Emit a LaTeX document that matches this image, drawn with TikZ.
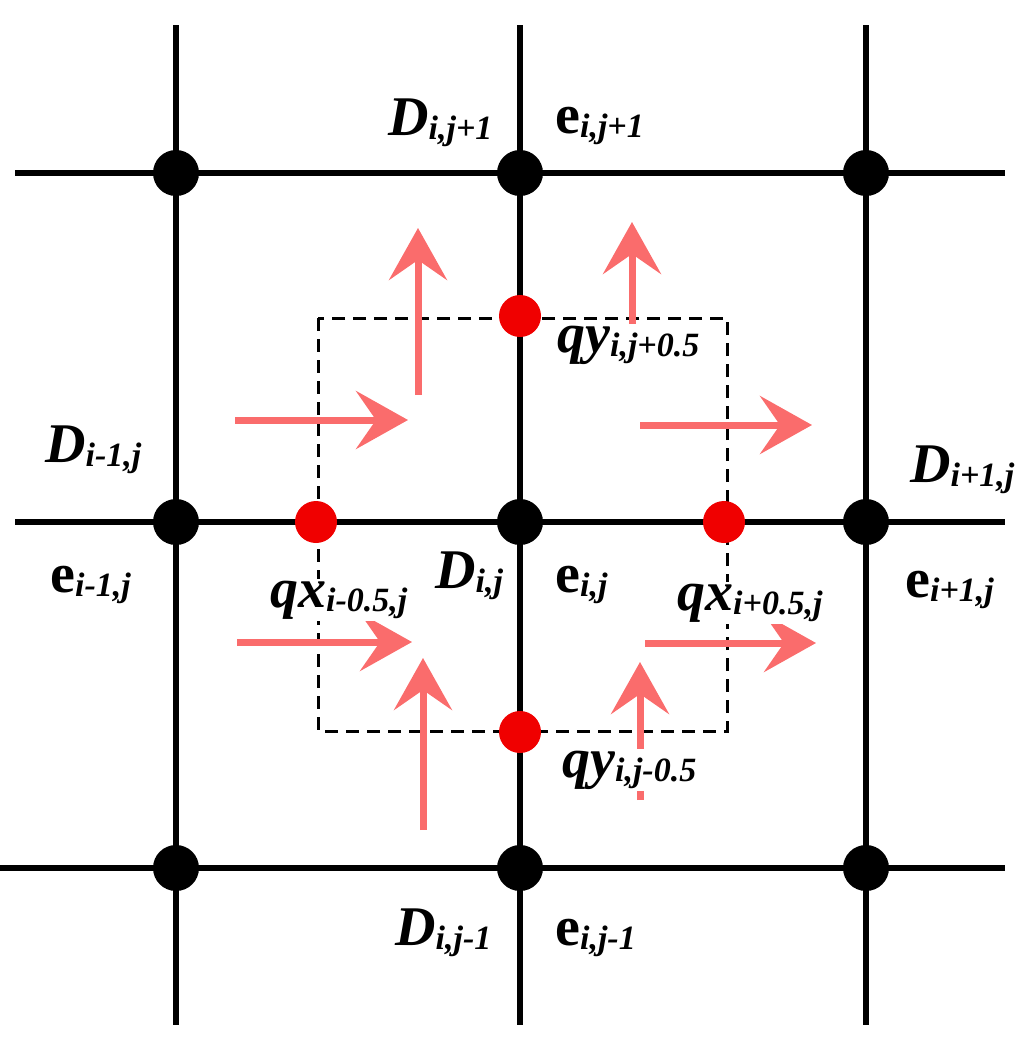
\documentclass[tikz,border=0pt]{standalone}
\usepackage{fontspec}
\setmainfont{Liberation Serif}
\usetikzlibrary{arrows.meta}
\definecolor{flux}{RGB}{250,108,108}
\definecolor{red1}{RGB}{240,0,0}
\newcommand{\lbl}[2]{{\fontsize{56}{56}\selectfont #1}\raisebox{-0.42em}{\fontsize{34}{34}\selectfont\bfseries\itshape #2}}
\newcommand{\DD}{\bfseries\itshape D}
\newcommand{\EE}{\bfseries e}
\newcommand{\QX}{\bfseries\itshape qx}
\newcommand{\QY}{\bfseries\itshape qy}
\begin{document}
\begin{tikzpicture}[x=1pt,y=-1pt,
  grid/.style={line width=6pt,black},
  bdot/.style={circle,fill=black,minimum size=46pt,inner sep=0pt},
  rdot/.style={circle,fill=red1,minimum size=42pt,inner sep=0pt},
  flx/.style={line width=7pt,flux,-{Stealth[length=52pt,width=58pt,inset=20pt]}},
  tx/.style={anchor=base west,inner sep=0pt},
  txw/.style={anchor=base west,inner sep=2pt,fill=white}]
\useasboundingbox (0,0) rectangle (1036,1050);
\draw[line width=3pt,dash pattern=on 13pt off 8pt] (318,318) rectangle (727,731);
\foreach \x in {176,520,866} \draw[grid] (\x,25) -- (\x,1025);
\draw[grid] (15,173) -- (1005,173);
\draw[grid] (15,522) -- (1005,522);
\draw[grid] (0,868) -- (1005,868);
\foreach \x/\n in {176/a,520/b,866/c}{
  \foreach \y/\m in {173/1,522/2,868/3} \node[bdot] (\n\m) at (\x,\y) {};}
\node[rdot] (rt) at (520,316) {};
\node[rdot] (rl) at (316,522) {};
\node[rdot] (rr) at (724,522) {};
\node[rdot] (rb) at (520,732) {};
% flux arrows
\coordinate (s1) at (235,420); \coordinate (e1) at (408,420);
\coordinate (s2) at (418,395); \coordinate (e2) at (418,228);
\coordinate (s3) at (632,345); \coordinate (e3) at (632,222);
\coordinate (s4) at (640,425); \coordinate (e4) at (812,425);
\coordinate (s5) at (237,642); \coordinate (e5) at (412,642);
\coordinate (s6) at (423,830); \coordinate (e6) at (423,658);
\coordinate (s7) at (640,800); \coordinate (e7) at (640,662);
\coordinate (s8) at (645,643); \coordinate (e8) at (816,643);
\foreach \i in {1,...,8} \draw[flx] (s\i) -- (e\i);
% labels
\node[tx] (l1) at (388,135) {\lbl{\DD}{i,j+1}};
\node[tx] (l2) at (555,133) {\lbl{\EE}{i,j+1}};
\node[tx] (l3) at (45,462) {\lbl{\DD}{i-1,j}};
\node[tx] (l4) at (910,482) {\lbl{\DD}{i+1,j}};
\node[tx] (l5) at (50,592) {\lbl{\EE}{i-1,j}};
\node[txw] (l6) at (268,607) {\lbl{\QX}{i-0.5,j}};
\node[tx] (l7) at (435,588) {\lbl{\DD}{i,j}};
\node[tx] (l8) at (555,592) {\lbl{\EE}{i,j}};
\node[txw] (l9) at (675,610) {\lbl{\QX}{i+0.5,j}};
\node[tx] (l10) at (905,597) {\lbl{\EE}{i+1,j}};
\node[txw] (l11) at (555,352) {\lbl{\QY}{i,j+0.5}};
\node[txw] (l12) at (560,777) {\lbl{\QY}{i,j-0.5}};
\node[tx] (l13) at (395,945) {\lbl{\DD}{i,j-1}};
\node[tx] (l14) at (555,945) {\lbl{\EE}{i,j-1}};
\end{tikzpicture}
\end{document}
